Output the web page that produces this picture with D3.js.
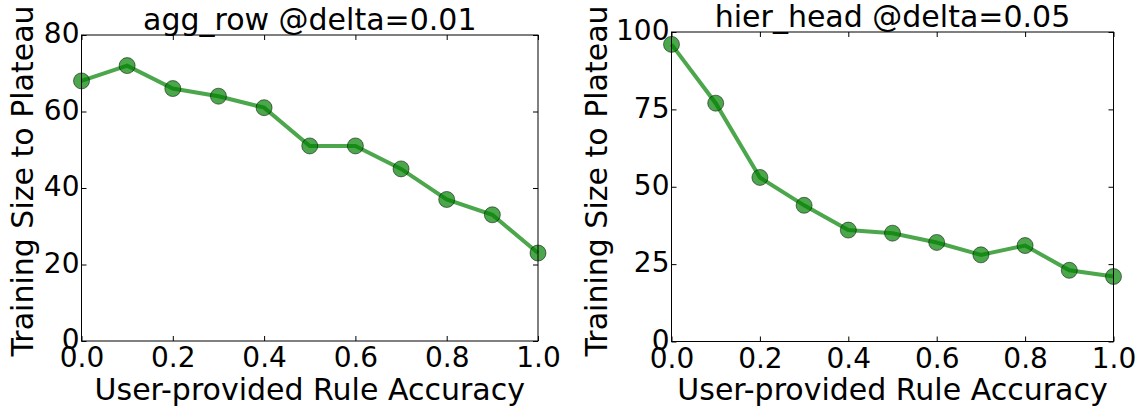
<!DOCTYPE html>
<html>
<head>
<meta charset="utf-8">
<script src="https://cdn.jsdelivr.net/npm/d3@7"></script>
<style>
  body { margin: 0; background: #fff; }
  text { font-family: "DejaVu Sans", sans-serif; fill: #000; }
</style>
</head>
<body>
<svg id="chart" width="1148" height="408"></svg>
<script>
// accuracy values on the x axis
let accuracy = [0.0, 0.1, 0.2, 0.3, 0.4, 0.5, 0.6, 0.7, 0.8, 0.9, 1.0];
let xTicks = [0.0, 0.2, 0.4, 0.6, 0.8, 1.0];

// left panel
let aggRowTitle = "agg_row @delta=0.01";
let aggRowSizes = [68, 72, 66, 64, 61, 51, 51, 45, 37, 33, 23];
let aggRowTicks = [0, 20, 40, 60, 80];

// right panel
let hierHeadTitle = "hier_head @delta=0.05";
let hierHeadSizes = [96, 77, 53, 44, 36, 35, 32, 28, 31, 23, 21];
let hierHeadTicks = [0, 25, 50, 75, 100];

let xLabel = "User-provided Rule Accuracy";
let yLabel = "Training Size to Plateau";

let svg = d3.select("#chart");

// draw one panel
let drawPanel = function (box, title, values, yTicks) {
    let g = svg.append("g");
    let x = d3.scaleLinear().domain([0, 1]).range([box.left, box.right]);
    let y = d3.scaleLinear().domain([0, yTicks[yTicks.length - 1]]).range([box.bottom, box.top]);
    let tickLen = 5;

    // inward ticks on all four sides
    g.append("g").attr("transform", "translate(0," + box.bottom + ")")
        .call(d3.axisBottom(x).tickValues(xTicks).tickSizeInner(-tickLen).tickSizeOuter(0).tickFormat(d3.format(".1f")))
        .call(s => s.select(".domain").remove())
        .call(s => s.selectAll("text").attr("dy", 0).attr("y", 26).style("font-size", "28px").style("font-family", "DejaVu Sans"));
    g.append("g").attr("transform", "translate(0," + box.top + ")")
        .call(d3.axisTop(x).tickValues(xTicks).tickSizeInner(-tickLen).tickSizeOuter(0).tickFormat(""))
        .call(s => s.select(".domain").remove());
    g.append("g").attr("transform", "translate(" + box.left + ",0)")
        .call(d3.axisLeft(y).tickValues(yTicks).tickSizeInner(-tickLen).tickSizeOuter(0))
        .call(s => s.select(".domain").remove())
        .call(s => s.selectAll("text").attr("x", -2).attr("dy", "0.28em").style("font-size", "28px").style("font-family", "DejaVu Sans"));
    g.append("g").attr("transform", "translate(" + box.right + ",0)")
        .call(d3.axisRight(y).tickValues(yTicks).tickSizeInner(-tickLen).tickSizeOuter(0).tickFormat(""))
        .call(s => s.select(".domain").remove());

    // line and markers
    let pts = accuracy.map((a, i) => [a, values[i]]);
    g.append("path")
        .datum(pts)
        .attr("fill", "none")
        .attr("stroke", "#008000")
        .attr("stroke-opacity", 0.7)
        .attr("stroke-width", 4)
        .attr("d", d3.line().x(d => x(d[0])).y(d => y(d[1])));
    g.selectAll(".dot")
        .data(pts)
        .enter()
        .append("circle")
        .attr("cx", d => x(d[0]))
        .attr("cy", d => y(d[1]))
        .attr("r", 8)
        .attr("fill", "#008000")
        .attr("fill-opacity", 0.7)
        .attr("stroke", "#000")
        .attr("stroke-opacity", 0.5)
        .attr("stroke-width", 1);

    // frame
    g.append("rect")
        .attr("x", box.left).attr("y", box.top)
        .attr("width", box.right - box.left).attr("height", box.bottom - box.top)
        .attr("fill", "none").attr("stroke", "#000").attr("stroke-width", 1);

    // texts
    let cx = (box.left + box.right) / 2;
    g.append("text").attr("x", cx).attr("y", box.top - 5)
        .attr("text-anchor", "middle").style("font-size", "30px").text(title);
    g.append("text").attr("x", cx).attr("y", 400)
        .attr("text-anchor", "middle").style("font-size", "30px").text(xLabel);
    g.append("text")
        .attr("transform", "translate(" + box.yLabelX + ",181) rotate(-90)")
        .attr("text-anchor", "middle").style("font-size", "30px").text(yLabel);
};

drawPanel({left: 81.5, right: 538, top: 35, bottom: 341, yLabelX: 33}, aggRowTitle, aggRowSizes, aggRowTicks);
drawPanel({left: 671.5, right: 1113.5, top: 32, bottom: 341.5, yLabelX: 607}, hierHeadTitle, hierHeadSizes, hierHeadTicks);
</script>
</body>
</html>
